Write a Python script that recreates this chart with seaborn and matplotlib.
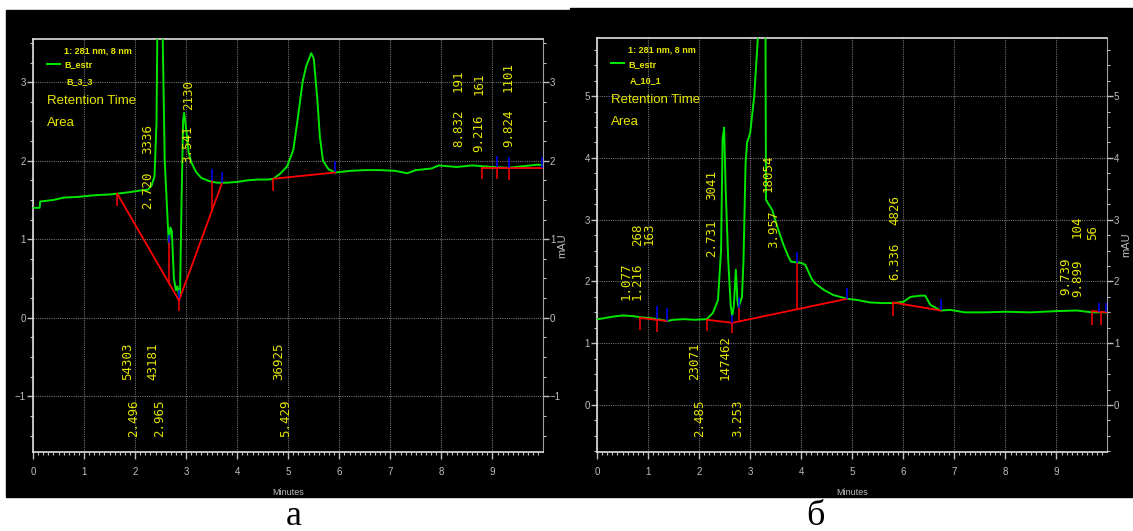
import matplotlib
matplotlib.use('Agg')
import matplotlib.pyplot as plt
import seaborn as sns
from matplotlib.patches import Rectangle
from matplotlib.ticker import MultipleLocator

plt.rcParams['font.family'] = ['Liberation Sans', 'DejaVu Sans']

# ---------------- panel a : sample B_3_3 ----------------
a_time = [0.00, 0.13, 0.14, 0.40, 0.60, 0.90, 1.20, 1.50, 1.65, 1.90, 2.10, 2.25, 2.32, 2.38,
          2.42, 2.44, 2.53, 2.58, 2.64, 2.66, 2.69, 2.72, 2.76, 2.80, 2.83, 2.86, 2.88, 2.91,
          2.94, 2.96, 3.00, 3.05, 3.10, 3.20, 3.30, 3.45, 3.60, 3.80, 4.00, 4.20, 4.40, 4.60,
          4.71, 4.85, 4.98, 5.10, 5.20, 5.28, 5.35, 5.45, 5.50, 5.57, 5.62, 5.68, 5.79, 5.92,
          6.20, 6.50, 6.80, 7.10, 7.33, 7.50, 7.80, 7.95, 8.30, 8.60, 8.80, 9.00, 9.30, 9.60,
          9.90, 10.0]
a_mau = [1.40, 1.40, 1.48, 1.50, 1.53, 1.54, 1.56, 1.57, 1.58, 1.60, 1.62, 1.63, 1.68, 1.80,
         2.50, 4.00, 4.00, 2.00, 1.20, 0.95, 1.15, 1.10, 0.50, 0.35, 0.40, 0.28, 0.30, 1.50,
         2.50, 2.61, 2.40, 2.10, 1.98, 1.85, 1.78, 1.74, 1.72, 1.72, 1.73, 1.75, 1.76, 1.76,
         1.77, 1.84, 1.93, 2.14, 2.60, 3.00, 3.20, 3.37, 3.30, 2.78, 2.30, 2.00, 1.89, 1.85,
         1.87, 1.88, 1.88, 1.87, 1.84, 1.88, 1.90, 1.94, 1.92, 1.94, 1.93, 1.92, 1.91, 1.93,
         1.95, 1.94]
a_base_t = [[1.65, 2.86, 3.70], [4.71, 5.92], [8.80, 9.98]]
a_base_v = [[1.58, 0.22, 1.71], [1.77, 1.85], [1.91, 1.91]]
a_red_t = [1.65, 2.67, 2.86, 3.50, 4.71, 8.80, 9.08, 9.33]
a_red_lo = [1.42, 0.43, 0.08, 1.36, 1.61, 1.77, 1.77, 1.76]
a_red_hi = [1.58, 1.00, 0.25, 1.76, 1.77, 1.92, 1.92, 1.92]
a_blue_t = [2.67, 2.86, 3.50, 3.70, 5.92, 9.08, 9.33, 9.98]
a_blue_lo = [0.95, 0.25, 1.74, 1.71, 1.85, 1.92, 1.91, 1.91]
a_blue_hi = [1.05, 0.35, 1.89, 1.86, 2.00, 2.06, 2.05, 2.05]
a_lab_text = ['2.720', '3336', '3.541', '2130', '8.832', '191', '9.216', '161', '9.824', '1101',
              '54303', '2.496', '43181', '2.965', '36925', '5.429']
a_lab_t = [2.24, 2.24, 3.04, 3.04, 8.33, 8.33, 8.73, 8.73, 9.31, 9.31,
           1.86, 1.98, 2.35, 2.49, 4.82, 4.94]
a_lab_v = [1.38, 2.08, 1.97, 2.65, 2.17, 2.88, 2.11, 2.84, 2.17, 2.88,
           -0.79, -1.52, -0.79, -1.52, -0.79, -1.52]

# ---------------- panel b : sample A_10_1 ----------------
b_time = [0.00, 0.10, 0.30, 0.50, 0.70, 0.85, 1.00, 1.20, 1.37, 1.50, 1.70, 1.90, 2.15, 2.27,
          2.37, 2.43, 2.46, 2.49, 2.52, 2.57, 2.62, 2.65, 2.68, 2.72, 2.75, 2.77, 2.80, 2.84,
          2.87, 2.91, 2.94, 3.00, 3.08, 3.17, 3.30, 3.31, 3.43, 3.55, 3.65, 3.75, 3.80, 4.00,
          4.08, 4.20, 4.27, 4.45, 4.63, 4.90, 5.10, 5.35, 5.60, 5.80, 6.00, 6.14, 6.33, 6.43,
          6.53, 6.73, 6.92, 7.20, 7.60, 8.00, 8.50, 9.00, 9.40, 9.70, 10.0]
b_mau = [1.39, 1.40, 1.43, 1.45, 1.44, 1.42, 1.41, 1.39, 1.36, 1.38, 1.39, 1.38, 1.39, 1.49,
         1.70, 2.50, 4.30, 4.49, 3.50, 2.35, 1.60, 1.45, 1.60, 2.19, 1.70, 1.59, 1.65, 1.75,
         2.35, 3.90, 4.25, 4.40, 5.00, 6.20, 6.20, 3.32, 3.16, 2.84, 2.60, 2.40, 2.32, 2.30,
         2.27, 2.05, 1.97, 1.86, 1.78, 1.72, 1.70, 1.66, 1.65, 1.65, 1.67, 1.75, 1.77, 1.77,
         1.62, 1.53, 1.54, 1.50, 1.50, 1.51, 1.50, 1.52, 1.53, 1.50, 1.50]
b_base_t = [[0.84, 1.37], [2.16, 2.65, 4.90], [5.80, 6.73], [9.70, 9.99]]
b_base_v = [[1.41, 1.36], [1.38, 1.33, 1.72], [1.66, 1.53], [1.52, 1.50]]
b_red_t = [0.84, 1.18, 2.16, 2.65, 2.78, 3.92, 5.80, 9.70, 9.88]
b_red_lo = [1.22, 1.19, 1.20, 1.17, 1.35, 1.55, 1.44, 1.30, 1.30]
b_red_hi = [1.41, 1.40, 1.38, 1.33, 1.57, 2.30, 1.66, 1.52, 1.51]
b_blue_t = [1.18, 1.37, 2.65, 2.78, 3.92, 4.90, 6.73, 9.84, 9.98]
b_blue_lo = [1.40, 1.36, 1.33, 1.57, 2.30, 1.72, 1.53, 1.50, 1.50]
b_blue_hi = [1.60, 1.57, 1.45, 1.75, 2.48, 1.90, 1.72, 1.65, 1.65]
b_lab_text = ['1.077', '268', '1.216', '163', '2.731', '3041', '3.957', '18054', '6.336', '4826',
              '9.739', '104', '9.899', '56', '23071', '2.485', '147462', '3.253']
b_lab_t = [0.56, 0.79, 0.79, 1.02, 2.25, 2.25, 3.47, 3.35, 5.84, 5.84,
           9.18, 9.41, 9.41, 9.70, 1.92, 2.02, 2.51, 2.76]
b_lab_v = [1.70, 2.57, 1.70, 2.59, 2.40, 3.32, 2.54, 3.45, 2.03, 2.92,
           1.78, 2.71, 1.75, 2.67, 0.41, -0.52, 0.41, -0.52]

YEL = '#e6e600'
GREEN = '#00e600'
TICK = '#bdbdbd'


def draw_panel(ax, t, v, base_t, base_v, red_t, red_lo, red_hi, blue_t, blue_lo, blue_hi,
               lab_text, lab_t, lab_v, ylim, yticks, sample):
    ax.set_facecolor('black')
    sns.lineplot(x=t, y=v, ax=ax, sort=False, estimator=None, color=GREEN, lw=1.4, zorder=3)
    for bt, bv in zip(base_t, base_v):
        ax.plot(bt, bv, color='#ff0000', lw=1.3, zorder=4)
    ax.vlines(red_t, red_lo, red_hi, color='#ff0000', lw=1.1, zorder=4)
    ax.vlines(blue_t, blue_lo, blue_hi, color='#0000ff', lw=1.1, zorder=4)
    for s, x, y in zip(lab_text, lab_t, lab_v):
        ax.text(x, y, s, rotation=90, ha='center', va='bottom', color=YEL,
                fontsize=9, family='DejaVu Sans Mono', zorder=5)

    ax.set_xlim(0, 9.99)
    ax.set_ylim(*ylim)
    ax.set_xticks(range(10))
    ax.set_yticks(yticks)
    ax.xaxis.set_minor_locator(MultipleLocator(0.1))
    ax.yaxis.set_minor_locator(MultipleLocator(0.25))
    ax.grid(True, which='major', color='#707070', lw=0.8, ls=(0, (1, 1)))
    ax.set_axisbelow(True)
    ax.set_xlabel('')
    ax.set_ylabel('')
    for side in ['left', 'bottom', 'top']:
        ax.spines[side].set_color('#e0e0e0')
        ax.spines[side].set_linewidth(1.2)
    ax.spines['right'].set_color('#a0a0a0')
    ax.tick_params(which='both', colors=TICK, direction='out', labelsize=7,
                   left=True, right=True, top=False, bottom=True,
                   labelleft=True, labelright=True)
    ax.tick_params(axis='y', which='major', length=4, width=1, pad=1)
    ax.tick_params(axis='x', which='major', length=5, width=1, pad=6)
    ax.tick_params(which='minor', length=2.5, width=0.8)

    # header / legend block
    ax.plot([0.027, 0.053], [0.940, 0.940], transform=ax.transAxes, color=GREEN, lw=1.5)
    ax.text(0.060, 0.970, '1: 281 nm, 8 nm', transform=ax.transAxes, color=YEL,
            fontsize=6.5, fontweight='bold', va='center')
    ax.text(0.062, 0.937, 'B_estr', transform=ax.transAxes, color=YEL,
            fontsize=6.5, fontweight='bold', va='center')
    ax.text(0.065, 0.896, sample, transform=ax.transAxes, color=YEL,
            fontsize=6.5, fontweight='bold', va='center')
    ax.text(0.027, 0.850, 'Retention Time', transform=ax.transAxes, color=YEL,
            fontsize=9.5, va='center')
    ax.text(0.027, 0.797, 'Area', transform=ax.transAxes, color=YEL,
            fontsize=9.5, va='center')
    ax.text(0.5, -0.097, 'Minutes', transform=ax.transAxes, color=TICK,
            fontsize=6.5, ha='center', va='center')
    ax.text(1.037, 0.50, 'mAU', transform=ax.transAxes, color=TICK, rotation=90,
            fontsize=8, ha='center', va='center')


fig = plt.figure(figsize=(11.33, 5.31), dpi=100, facecolor='white')
fig.add_artist(Rectangle((6 / 1133, 1 - 497 / 531), 564 / 1133, 487 / 531,
                         transform=fig.transFigure, color='black', zorder=-1))
fig.add_artist(Rectangle((570 / 1133, 1 - 497 / 531), 563 / 1133, 489 / 531,
                         transform=fig.transFigure, color='black', zorder=-1))

ax_a = fig.add_axes([33 / 1133, 79 / 531, 510 / 1133, 413 / 531])
ax_b = fig.add_axes([597 / 1133, 79 / 531, 510 / 1133, 414 / 531])

draw_panel(ax_a, a_time, a_mau, a_base_t, a_base_v, a_red_t, a_red_lo, a_red_hi,
           a_blue_t, a_blue_lo, a_blue_hi, a_lab_text, a_lab_t, a_lab_v,
           (-1.71, 3.55), [-1, 0, 1, 2, 3], 'B_3_3')
draw_panel(ax_b, b_time, b_mau, b_base_t, b_base_v, b_red_t, b_red_lo, b_red_hi,
           b_blue_t, b_blue_lo, b_blue_hi, b_lab_text, b_lab_t, b_lab_v,
           (-0.76, 5.94), [0, 1, 2, 3, 4, 5], 'A_10_1')

fig.text(294 / 1133, 6 / 531, 'а', family=['Liberation Serif', 'DejaVu Serif'],
         fontsize=26, ha='center', va='baseline')
fig.text(815 / 1133, 6 / 531, 'б', family=['Liberation Serif', 'DejaVu Serif'],
         fontsize=26, ha='center', va='baseline')

fig.savefig('out.png', dpi=100, facecolor='white')
